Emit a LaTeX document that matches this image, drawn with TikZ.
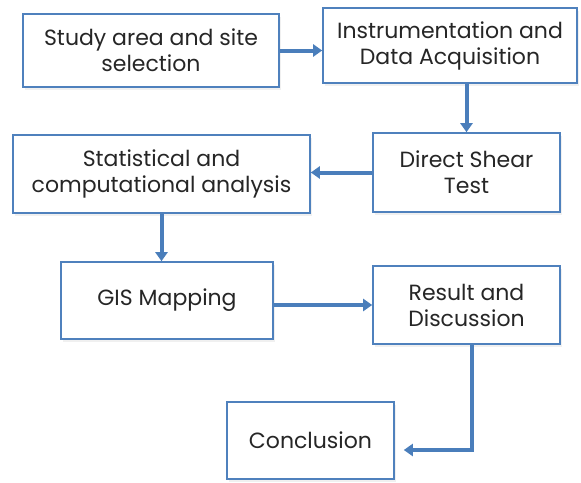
\documentclass[tikz,border=0pt]{standalone}
\usepackage{fontspec}
\setmainfont{Poppins}
\usetikzlibrary{arrows.meta,shadows}
\definecolor{boxblue}{RGB}{79,129,189}
\definecolor{flowblue}{RGB}{74,126,187}
\definecolor{txtgray}{RGB}{38,38,38}
\tikzset{
    block/.style = {draw=boxblue, line width=1.6pt, fill=white, rectangle,
        align=center, text=txtgray, inner sep=0pt,
        font=\fontsize{22}{26}\selectfont,
        drop shadow={opacity=0.12, shadow xshift=1.5pt, shadow yshift=-2.5pt}},
    arrow/.style = {draw=flowblue, line width=4pt, -{Triangle[length=9pt,width=12pt]}}
}

\begin{document}
\begin{tikzpicture}[x=1pt,y=-1pt]
                \useasboundingbox (0,0) rectangle (581,482);
                \node[block, minimum width=256pt, minimum height=73pt] (study) at (151,50.5) {Study area and site\\selection};
                \node[block, minimum width=254pt, minimum height=75pt] (instr) at (450,45.5) {Instrumentation and\\Data Acquisition};
                \node[block, minimum width=187pt, minimum height=79pt] (shear) at (466.5,172.5) {Direct Shear\\Test};
                \node[block, minimum width=297pt, minimum height=78pt] (stat) at (161.5,174) {Statistical and\\computational analysis};
                \node[block, minimum width=212pt, minimum height=77pt] (gis) at (167,300.5) {GIS Mapping};
                \node[block, minimum width=187pt, minimum height=78pt] (result) at (466.5,305) {Result and\\Discussion};
                \node[block, minimum width=167pt, minimum height=77pt] (concl) at (310.5,440.5) {Conclusion};
                \coordinate (turn) at (472,450);
                \draw [arrow] (study.east) -- (study.east -| instr.west);
                \draw [arrow] (instr.south -| shear.north) -- (shear.north);
                \draw [arrow] (shear.west) -- (shear.west -| stat.east);
                \draw [arrow] (stat.south) -- (stat.south |- gis.north);
                \draw [arrow] (result.west -| gis.east) -- (result.west);
                \draw [arrow] (result.south -| turn) |- ([xshift=9pt]concl.east |- turn);
            \end{tikzpicture}
\end{document}
